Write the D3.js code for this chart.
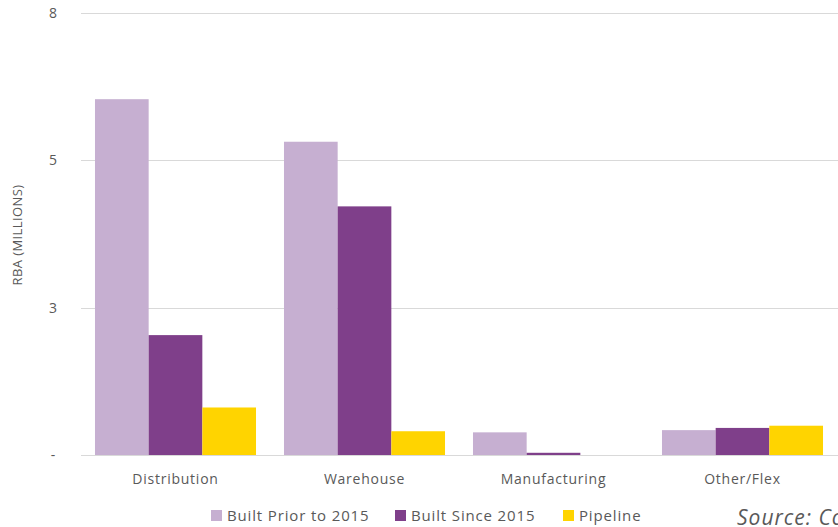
<!DOCTYPE html>
<html>
<head>
<meta charset="utf-8">
<script src="https://cdn.jsdelivr.net/npm/d3@7"></script>
<style>
  body { margin: 0; background: #fff; }
  text { font-family: "Open Sans", Lato, sans-serif; }
</style>
</head>
<body>
<script>
const categories = ["Distribution", "Warehouse", "Manufacturing", "Other/Flex"];
const seriesNames = ["Built Prior to 2015", "Built Since 2015", "Pipeline"];
const builtPrior = [6.44, 5.67, 0.41, 0.45];
const builtSince = [2.17, 4.50, 0.04, 0.49];
const pipeline = [0.86, 0.43, 0, 0.53];
const yTicks = [0, 8 / 3, 16 / 3, 8];
const colors = ["#c6afd1", "#7f3f8a", "#ffd400"];

const width = 838, height = 527;
const margin = { top: 13, right: 0, bottom: 72, left: 81 };

const svg = d3.select("body")
    .append("svg")
    .attr("width", width)
    .attr("height", height);

const data = categories.map((c, i) => ({
    cat: c,
    vals: [builtPrior[i], builtSince[i], pipeline[i]]
}));

const x = d3.scaleBand()
    .domain(categories)
    .range([margin.left, margin.left + 756])
    .paddingInner(0.148)
    .paddingOuter(0.074);

const xs = d3.scaleBand()
    .domain(d3.range(3))
    .range([0, x.bandwidth()]);

const y = d3.scaleLinear()
    .domain([0, 8])
    .range([height - margin.bottom, margin.top]);

// grid lines
svg.append("g")
    .selectAll("line")
    .data(yTicks)
    .join("line")
    .attr("x1", margin.left)
    .attr("x2", width)
    .attr("y1", d => Math.round(y(d)) + 0.5)
    .attr("y2", d => Math.round(y(d)) + 0.5)
    .attr("stroke", "#d9d9d9")
    .attr("stroke-width", 1);

// y tick labels
svg.append("g")
    .selectAll("text")
    .data(yTicks)
    .join("text")
    .attr("x", 53)
    .attr("y", d => y(d) + 5)
    .attr("text-anchor", "middle")
    .attr("font-size", "14px")
    .attr("fill", "#595959")
    .text(d => d === 0 ? "-" : d3.format(".0f")(d));

// bars
svg.append("g")
    .selectAll("g")
    .data(data)
    .join("g")
    .attr("transform", d => `translate(${x(d.cat)},0)`)
    .selectAll("rect")
    .data(d => d.vals)
    .join("rect")
    .attr("x", (d, i) => xs(i))
    .attr("width", xs.bandwidth())
    .attr("y", d => y(d))
    .attr("height", d => y(0) - y(d))
    .attr("fill", (d, i) => colors[i]);

// category labels
svg.append("g")
    .selectAll("text")
    .data(categories)
    .join("text")
    .attr("x", d => x(d) + x.bandwidth() / 2)
    .attr("y", 484)
    .attr("text-anchor", "middle")
    .attr("font-size", "14px")
    .attr("letter-spacing", "0.75px")
    .attr("fill", "#595959")
    .text(d => d);

// y axis title
svg.append("text")
    .attr("transform", "translate(22,235) rotate(-90)")
    .attr("text-anchor", "middle")
    .attr("font-size", "13px")
    .attr("letter-spacing", "0.4px")
    .attr("fill", "#595959")
    .text("RBA (MILLIONS)");

// legend
const legendX = [211, 395, 563];
const legend = svg.append("g")
    .selectAll("g")
    .data(seriesNames)
    .join("g")
    .attr("transform", (d, i) => `translate(${legendX[i]},510)`);

legend.append("rect")
    .attr("width", 11)
    .attr("height", 11)
    .attr("fill", (d, i) => colors[i]);

legend.append("text")
    .attr("x", 16)
    .attr("y", 11)
    .attr("font-size", "15px")
    .attr("letter-spacing", "0.85px")
    .attr("fill", "#595959")
    .text(d => d);

svg.append("text")
    .attr("x", 737)
    .attr("y", 525)
    .attr("font-family", "Roboto, sans-serif")
    .attr("font-style", "italic")
    .attr("font-size", "21px")
    .attr("letter-spacing", "1px")
    .attr("fill", "#595959")
    .text("Source: CoStar");
</script>
</body>
</html>
